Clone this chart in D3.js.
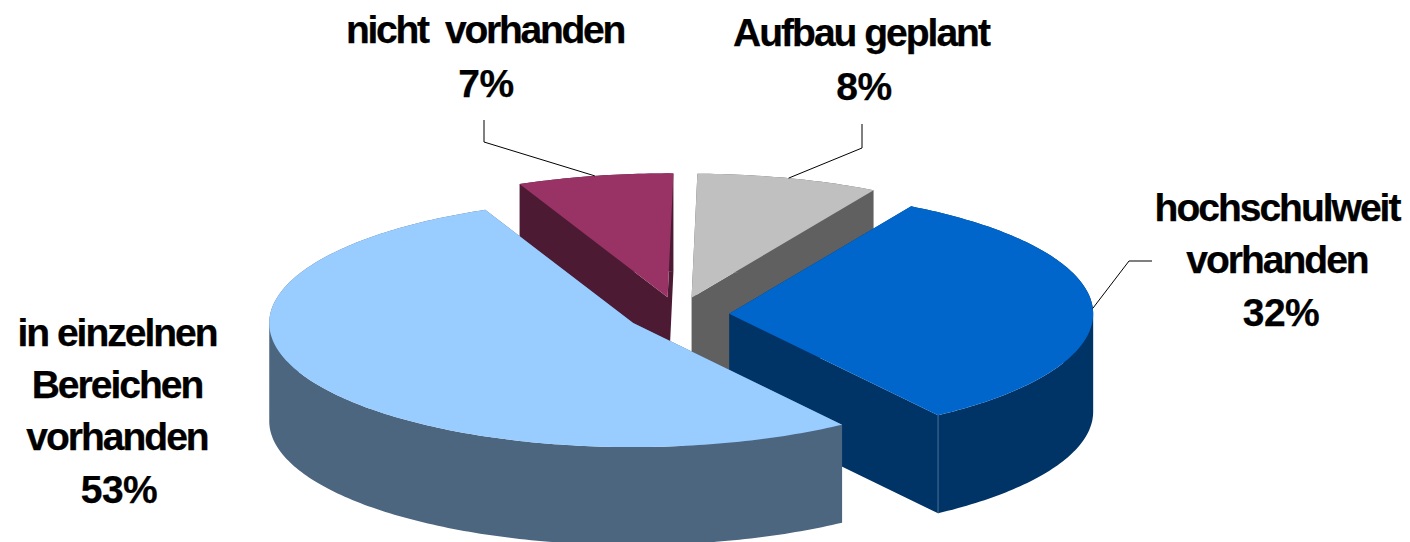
<!DOCTYPE html>
<html><head><meta charset="utf-8">
<script src="https://cdn.jsdelivr.net/npm/d3@7/dist/d3.min.js"></script>
<style>html,body{margin:0;padding:0;background:#fff;overflow:hidden}svg{display:block}
text{font-family:"Liberation Sans",Arial,sans-serif;font-weight:700;font-size:39px;fill:#000;stroke:#000;stroke-width:.25;letter-spacing:-2px;text-anchor:middle}
text.pct{letter-spacing:-.5px}
text.tight{letter-spacing:-2.25px}</style>
</head><body><svg id="c" width="1410" height="542"></svg>
<script>
// data, in pie order (clockwise from the first slice angle)
const categories = ["hochschulweit vorhanden","in einzelnen Bereichen vorhanden","nicht vorhanden","Aufbau geplant"];
const shares = [31.94,53.06,6.92,8.08];
const topColors = ["#0066CC","#99CCFF","#993366","#C0C0C0"];
const sideColors = ["#003366","#4D6680","#4D1A33","#606060"];
const labelLines = [["hochschulweit","vorhanden","32%"],["in einzelnen","Bereichen","vorhanden","53%"],["nicht  vorhanden","7%"],["Aufbau geplant","8%"]];

// layout
const cx=677.9, cy=314.5, rx=364, ry=124, depth=98, explode=0.141, firstAngle=30*Math.PI/180;
const drawOrder=[2,3,0,1];
const labelPos=[
  {x:[1277,1277,1281],y:[221,273,326]},
  {x:[117,117,117,119],y:[346,398,450,503]},
  {x:[485,486],y:[43,97]},
  {x:[861,864],y:[46,100]}];
const elbows=[
  [[1152,261],[1129,261]],
  null,
  [[484,120],[484,142]],
  [[862,124],[862,148]]];

const svg=d3.select("#c");
const X=d3.scaleLinear().domain([-1,1]).range([cx-rx,cx+rx]);
const Y=d3.scaleLinear().domain([-1,1]).range([cy-ry,cy+ry]);
const pie=d3.pie().sort(null).startAngle(firstAngle).endAngle(firstAngle+2*Math.PI);
const arcs=pie(shares);
const line=d3.line();

function pt(a,r,th,z){
  const mid=(a.startAngle+a.endAngle)/2;
  return [X(explode*Math.sin(mid)+r*Math.sin(th)), Y(-(explode*Math.cos(mid)+r*Math.cos(th)))+z];
}
function rim(a,z){
  const n=Math.max(8,Math.ceil((a.endAngle-a.startAngle)*60));
  return d3.range(n+1).map(i=>pt(a,1,a.startAngle+(a.endAngle-a.startAngle)*i/n,z));
}
// same winding for every quad, so one path fills them without seams or holes
function wind(q){ return d3.polygonArea(q)<0 ? q.slice().reverse() : q; }
drawOrder.forEach(i=>{
  const a=arcs[i], g=svg.append("g"), side=sideColors[i];
  const c0=pt(a,0,0,0), c1=pt(a,0,0,depth);
  const r0=rim(a,0), r1=rim(a,depth), last=r0.length-1;
  const faces=[[c0,r0[0],r1[0],c1],[c0,r0[last],r1[last],c1]];
  d3.range(last).forEach(k=>faces.push([r0[k],r0[k+1],r1[k+1],r1[k]]));
  g.append("path").attr("d",faces.map(f=>line(wind(f))+"Z").join("")).attr("fill",side);
  if(i===0){ // thin highlight on the wall's corner
    g.append("path").attr("d",line([r0[last],r1[last]])).attr("stroke","#5d82a8").attr("stroke-width",.8).attr("fill","none");
  }
  g.append("path").attr("d",line([c0].concat(r0))+"Z").attr("fill",topColors[i]);
});
// leaders
arcs.forEach((a,i)=>{
  if(!elbows[i])return;
  const mid=(a.startAngle+a.endAngle)/2;
  svg.append("path").attr("d",line(elbows[i].concat([pt(a,1,mid,0)])))
    .attr("fill","none").attr("stroke","#000").attr("stroke-width",1);
});
// labels
labelLines.forEach((ls,i)=>{
  ls.forEach((t,j)=>{
    svg.append("text").attr("class",t.endsWith("%")?"pct":(i===2?"tight":null))
      .attr("x",labelPos[i].x[j]).attr("y",labelPos[i].y[j]).style("white-space","pre").text(t);
  });
});
</script></body></html>
